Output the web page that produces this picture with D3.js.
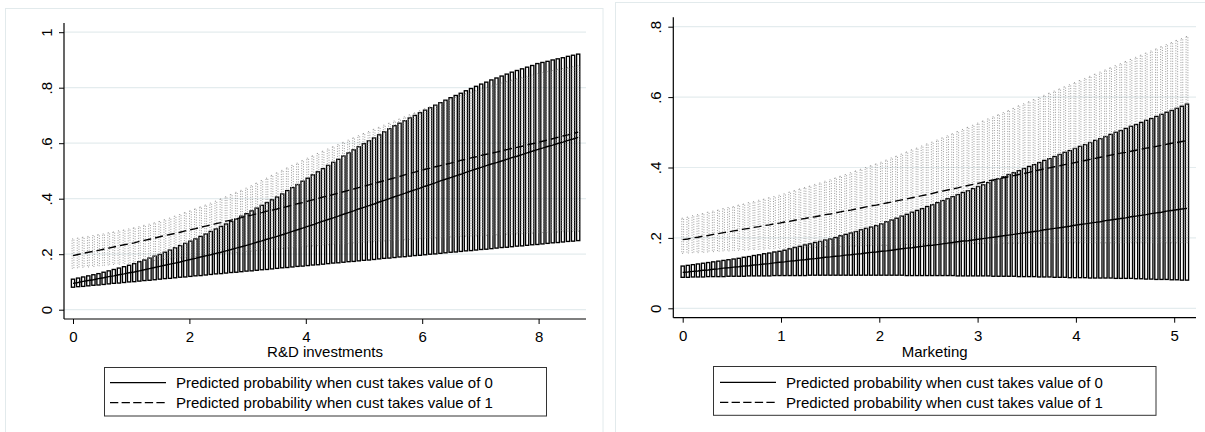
<!DOCTYPE html>
<html><head><meta charset="utf-8">
<script src="https://cdn.jsdelivr.net/npm/d3@7"></script>
<style>
html,body{margin:0;padding:0;background:#fff;}
svg{display:block;}
text{font-family:"Liberation Sans",Arial,sans-serif;fill:#000;}
</style>
</head><body>
<svg id="chart" width="1205" height="432"></svg>
<script>
// ---------- Left panel: R&D investments ----------
const rdX = [0,0.088,0.175,0.263,0.351,0.438,0.526,0.614,0.701,0.789,0.877,0.964,1.052,1.14,1.227,1.315,1.403,1.491,1.578,1.666,1.754,1.841,1.929,2.017,2.104,2.192,2.28,2.367,2.455,2.543,2.63,2.718,2.806,2.893,2.981,3.069,3.156,3.244,3.332,3.419,3.507,3.595,3.682,3.77,3.858,3.945,4.033,4.121,4.208,4.296,4.384,4.472,4.559,4.647,4.735,4.822,4.91,4.998,5.085,5.173,5.261,5.348,5.436,5.524,5.611,5.699,5.787,5.874,5.962,6.05,6.137,6.225,6.313,6.4,6.488,6.576,6.663,6.751,6.839,6.926,7.014,7.102,7.189,7.277,7.365,7.453,7.54,7.628,7.716,7.803,7.891,7.979,8.066,8.154,8.242,8.329,8.417,8.505,8.592,8.68];
const rdHi0 = [.110,.114,.118,.122,.126,.130,.135,.140,.145,.150,.155,.160,.166,.173,.179,.186,.193,.199,.207,.215,.223,.231,.239,.247,.255,.264,.273,.282,.291,.300,.309,.318,.327,.337,.346,.356,.366,.376,.386,.396,.406,.417,.429,.440,.451,.463,.474,.486,.497,.508,.520,.531,.542,.554,.565,.576,.587,.598,.609,.619,.630,.641,.652,.663,.672,.681,.691,.700,.710,.719,.728,.737,.746,.755,.764,.772,.780,.789,.797,.805,.813,.820,.828,.835,.842,.849,.856,.862,.868,.874,.880,.887,.891,.895,.900,.904,.908,.913,.917,.921];
const rdLo0 = [.081,.083,.084,.086,.088,.089,.091,.093,.095,.096,.098,.100,.101,.103,.105,.106,.108,.110,.112,.113,.115,.117,.118,.120,.122,.123,.125,.127,.129,.130,.132,.134,.135,.137,.139,.140,.142,.144,.145,.147,.149,.151,.152,.154,.156,.157,.159,.161,.162,.164,.166,.168,.169,.171,.173,.174,.176,.178,.179,.181,.183,.185,.186,.188,.190,.191,.193,.195,.196,.198,.200,.201,.203,.205,.207,.208,.210,.212,.213,.215,.217,.218,.220,.222,.224,.225,.227,.229,.230,.232,.234,.235,.237,.239,.241,.242,.244,.246,.247,.249];
const rdMean0 = [.095,.098,.102,.105,.108,.112,.115,.119,.122,.126,.129,.133,.136,.140,.144,.148,.152,.156,.160,.164,.168,.172,.177,.181,.185,.190,.194,.198,.203,.207,.212,.217,.222,.227,.232,.237,.243,.248,.254,.259,.264,.270,.276,.282,.288,.294,.300,.306,.313,.319,.325,.331,.337,.344,.350,.356,.363,.369,.375,.381,.388,.394,.400,.407,.413,.419,.426,.432,.438,.445,.451,.457,.464,.470,.476,.482,.488,.495,.501,.507,.513,.519,.525,.530,.536,.542,.548,.553,.559,.565,.571,.577,.582,.588,.593,.599,.604,.610,.615,.621];
const rdHi1 = [.255,.258,.261,.264,.267,.270,.273,.277,.280,.284,.287,.291,.295,.299,.304,.308,.313,.318,.324,.330,.337,.343,.350,.356,.363,.370,.377,.384,.391,.399,.407,.415,.423,.430,.438,.447,.456,.465,.474,.484,.493,.502,.511,.520,.528,.537,.546,.554,.563,.571,.579,.587,.595,.603,.611,.619,.627,.635,.642,.650,.657,.665,.672,.680,.687,.695,.702,.709,.717,.724,.731,.738,.745,.752,.759,.765,.771,.778,.784,.790,.796,.801,.806,.812,.817,.822,.827,.832,.837,.841,.846,.851,.855,.858,.862,.866,.869,.873,.876,.880];
const rdLo1 = [.149,.151,.153,.154,.156,.158,.159,.161,.163,.164,.166,.167,.169,.171,.173,.175,.177,.179,.181,.183,.185,.187,.188,.190,.192,.194,.196,.197,.199,.201,.203,.204,.206,.208,.210,.211,.213,.214,.216,.218,.219,.221,.222,.224,.225,.227,.229,.230,.231,.233,.234,.236,.237,.238,.239,.241,.242,.243,.244,.245,.247,.248,.249,.250,.251,.252,.253,.254,.256,.257,.258,.259,.260,.261,.262,.263,.264,.265,.265,.266,.267,.268,.269,.270,.271,.272,.272,.273,.274,.275,.276,.277,.278,.278,.279,.280,.281,.282,.282,.283];
const rdMean1 = [.195,.199,.203,.207,.210,.214,.218,.222,.226,.230,.234,.237,.241,.246,.250,.254,.258,.263,.267,.271,.275,.279,.284,.288,.292,.297,.301,.305,.310,.314,.319,.323,.328,.332,.337,.341,.346,.350,.355,.359,.363,.368,.372,.377,.382,.386,.391,.396,.401,.406,.410,.415,.420,.425,.430,.435,.440,.445,.450,.455,.460,.465,.470,.475,.480,.486,.491,.496,.501,.506,.510,.515,.519,.524,.528,.533,.538,.542,.547,.551,.556,.560,.564,.568,.572,.577,.581,.585,.589,.594,.598,.602,.607,.611,.616,.621,.626,.630,.635,.640];
const rdXTicks = [0,2,4,6,8];
const rdYTicks = [0,0.2,0.4,0.6,0.8,1];
const rdXTitle = "R&D investments";

// ---------- Right panel: Marketing ----------
const mkX = [0,0.052,0.104,0.155,0.207,0.259,0.311,0.363,0.415,0.466,0.518,0.57,0.622,0.674,0.725,0.777,0.829,0.881,0.933,0.985,1.036,1.088,1.14,1.192,1.244,1.295,1.347,1.399,1.451,1.503,1.555,1.606,1.658,1.71,1.762,1.814,1.865,1.917,1.969,2.021,2.073,2.125,2.176,2.228,2.28,2.332,2.384,2.435,2.487,2.539,2.591,2.643,2.695,2.746,2.798,2.85,2.902,2.954,3.005,3.057,3.109,3.161,3.213,3.265,3.316,3.368,3.42,3.472,3.524,3.575,3.627,3.679,3.731,3.783,3.835,3.886,3.938,3.99,4.042,4.094,4.145,4.197,4.249,4.301,4.353,4.405,4.456,4.508,4.56,4.612,4.664,4.715,4.767,4.819,4.871,4.923,4.975,5.026,5.078,5.13];
const mkHi0 = [.120,.122,.124,.126,.128,.130,.132,.134,.136,.138,.140,.142,.145,.147,.150,.152,.155,.157,.160,.162,.165,.169,.173,.176,.180,.183,.187,.190,.194,.197,.201,.206,.210,.214,.218,.223,.227,.231,.235,.240,.246,.251,.256,.262,.267,.273,.278,.283,.289,.294,.300,.306,.311,.317,.323,.329,.334,.340,.346,.351,.357,.363,.368,.374,.380,.385,.391,.397,.403,.408,.414,.420,.425,.431,.437,.443,.448,.454,.460,.465,.471,.477,.482,.488,.494,.500,.505,.511,.517,.522,.528,.534,.539,.545,.551,.557,.562,.568,.574,.580];
const mkLo0 = [.088,.088,.089,.089,.089,.090,.090,.090,.090,.091,.091,.091,.091,.092,.092,.092,.092,.092,.093,.093,.093,.093,.093,.093,.093,.094,.094,.094,.094,.094,.094,.094,.094,.094,.094,.094,.094,.094,.094,.094,.094,.094,.094,.094,.093,.093,.093,.093,.093,.093,.093,.093,.093,.093,.092,.092,.092,.092,.092,.092,.092,.091,.091,.091,.091,.091,.090,.090,.090,.090,.089,.089,.089,.088,.088,.088,.087,.087,.087,.087,.086,.086,.086,.086,.086,.085,.085,.085,.085,.084,.084,.083,.083,.082,.082,.082,.081,.081,.080,.080];
const mkMean0 = [.102,.103,.105,.106,.108,.109,.111,.112,.114,.115,.117,.118,.120,.121,.123,.124,.126,.127,.129,.131,.132,.134,.135,.137,.138,.140,.141,.143,.145,.146,.148,.149,.151,.152,.154,.155,.157,.159,.160,.162,.163,.165,.167,.169,.171,.172,.174,.176,.178,.179,.181,.183,.185,.187,.189,.191,.192,.194,.196,.198,.200,.202,.204,.206,.208,.210,.212,.214,.216,.218,.220,.223,.225,.227,.229,.231,.233,.236,.238,.240,.242,.244,.246,.249,.251,.253,.255,.257,.260,.262,.264,.266,.269,.271,.273,.276,.278,.280,.282,.284];
const mkHi1 = [.256,.259,.263,.266,.269,.273,.276,.279,.283,.286,.289,.293,.296,.300,.303,.307,.310,.314,.317,.321,.325,.330,.334,.339,.343,.347,.352,.356,.361,.365,.370,.375,.380,.385,.390,.395,.400,.405,.410,.415,.421,.427,.432,.438,.444,.450,.455,.461,.467,.472,.478,.484,.490,.496,.502,.508,.514,.520,.526,.532,.538,.544,.550,.556,.562,.568,.575,.581,.587,.593,.599,.605,.611,.617,.623,.629,.635,.641,.647,.653,.659,.665,.671,.677,.683,.689,.695,.701,.707,.713,.719,.725,.731,.737,.743,.749,.755,.761,.766,.772];
const mkLo1 = [.156,.157,.158,.158,.159,.160,.161,.162,.163,.163,.164,.165,.165,.166,.167,.167,.168,.169,.169,.170,.170,.171,.171,.172,.172,.173,.173,.174,.175,.175,.175,.176,.176,.177,.177,.178,.178,.178,.179,.179,.179,.180,.180,.180,.181,.181,.181,.182,.182,.182,.182,.183,.183,.183,.183,.183,.184,.184,.184,.184,.184,.184,.184,.185,.185,.185,.185,.185,.185,.185,.185,.185,.185,.186,.186,.186,.186,.186,.186,.186,.186,.186,.186,.186,.186,.186,.186,.186,.186,.186,.186,.186,.186,.186,.186,.186,.186,.186,.186,.186];
const mkMean1 = [.195,.197,.200,.202,.205,.207,.210,.212,.215,.217,.220,.222,.225,.227,.230,.232,.235,.237,.240,.242,.245,.247,.250,.253,.255,.258,.260,.263,.266,.268,.271,.274,.277,.279,.282,.285,.288,.291,.293,.296,.299,.302,.305,.308,.311,.314,.317,.320,.323,.326,.330,.333,.336,.339,.342,.346,.349,.352,.355,.358,.362,.365,.368,.371,.374,.377,.380,.383,.386,.390,.393,.396,.399,.402,.405,.408,.411,.414,.417,.420,.423,.426,.429,.432,.435,.438,.441,.443,.446,.449,.452,.455,.457,.460,.463,.466,.469,.471,.474,.476];
const mkXTicks = [0,1,2,3,4,5];
const mkYTicks = [0,0.2,0.4,0.6,0.8];
const mkXTitle = "Marketing";

const legendLabels = ["Predicted probability when cust takes value of 0",
                      "Predicted probability when cust takes value of 1"];

// ---------- drawing ----------
const svg = d3.select("#chart");
const fmtY = v => v === 0 ? "0" : v === 1 ? "1" : d3.format(".1f")(v).replace(/^0/, "");

function drawPanel(p) {
  const g = svg.append("g");
  g.append("rect").attr("x", p.frame[0]).attr("y", p.frame[1])
    .attr("width", p.frame[2]).attr("height", p.frame[3])
    .attr("fill", "none").attr("stroke", "#e2eaec").attr("stroke-width", 1);

  const x = d3.scaleLinear().domain(p.xDom).range(p.xRange);
  const y = d3.scaleLinear().domain(p.yDom).range(p.yRange);

  g.append("g").selectAll("line").data(p.yTicks).join("line")
    .attr("x1", p.plot.l).attr("x2", p.plot.r)
    .attr("y1", d => y(d)).attr("y2", d => y(d))
    .attr("stroke", "#e4ecee").attr("stroke-width", 1.2);

  const idx = d3.range(p.xs.length);
  g.append("g").selectAll("rect").data(idx).join("rect")
    .attr("x", i => x(p.xs[i]) - 1.6).attr("width", 3.2)
    .attr("y", i => y(p.hi0[i])).attr("height", i => y(p.lo0[i]) - y(p.hi0[i]))
    .attr("fill", "none").attr("stroke", "#000").attr("stroke-width", 1.35);
  g.append("g").selectAll("rect").data(idx).join("rect")
    .attr("x", i => x(p.xs[i]) - 0.9).attr("width", 1.8)
    .attr("y", i => y(p.hi1[i])).attr("height", i => y(p.lo1[i]) - y(p.hi1[i]))
    .attr("fill", "none").attr("stroke", "#8e8e8e").attr("stroke-width", 0.9)
    .attr("stroke-dasharray", "1,1.5");

  const line = arr => d3.line().x((d, i) => x(p.xs[i])).y(d => y(d))(arr);
  g.append("path").attr("d", line(p.m0)).attr("fill", "none")
    .attr("stroke", "#000").attr("stroke-width", 1.4);
  g.append("path").attr("d", line(p.m1)).attr("fill", "none")
    .attr("stroke", "#000").attr("stroke-width", 1.4).attr("stroke-dasharray", "8,4");

  g.append("line").attr("x1", p.plot.l).attr("x2", p.plot.l)
    .attr("y1", p.plot.t).attr("y2", p.plot.b).attr("stroke", "#000").attr("stroke-width", 1.2);
  g.append("line").attr("x1", p.plot.l).attr("x2", p.plot.r)
    .attr("y1", p.plot.b).attr("y2", p.plot.b).attr("stroke", "#000").attr("stroke-width", 1.2);

  const ya = g.append("g").attr("transform", `translate(${p.plot.l},0)`)
    .call(d3.axisLeft(y).tickValues(p.yTicks).tickSize(5).tickFormat(fmtY));
  ya.select(".domain").remove();
  ya.selectAll(".tick line").attr("stroke", "#000").attr("stroke-width", 1);
  ya.selectAll(".tick text").attr("x", null).attr("dy", null)
    .attr("transform", "translate(-12.5,0) rotate(-90)")
    .attr("text-anchor", "middle").style("font-size", "15px")
    .style("font-family", '"Liberation Sans",Arial,sans-serif').attr("fill", "#000");

  const xa = g.append("g").attr("transform", `translate(0,${p.plot.b})`)
    .call(d3.axisBottom(x).tickValues(p.xTicks).tickSize(5).tickFormat(d3.format("d")));
  xa.select(".domain").remove();
  xa.selectAll(".tick line").attr("stroke", "#000").attr("stroke-width", 1);
  xa.selectAll(".tick text").attr("y", 23).attr("dy", null)
    .style("font-size", "15px").style("font-family", '"Liberation Sans",Arial,sans-serif').attr("fill", "#000");

  g.append("text").attr("x", (p.plot.l + p.plot.r) / 2).attr("y", 357)
    .attr("text-anchor", "middle").style("font-size", "15px").text(p.xTitle);

  const L = p.legend;
  g.append("rect").attr("x", L.x).attr("y", L.y).attr("width", L.w).attr("height", L.h)
    .attr("fill", "#fff").attr("stroke", "#333").attr("stroke-width", 1);
  legendLabels.forEach((lab, k) => {
    const ry = L.rows[k];
    g.append("line").attr("x1", L.s1).attr("x2", L.s2).attr("y1", ry).attr("y2", ry)
      .attr("stroke", "#000").attr("stroke-width", 1.3)
      .attr("stroke-dasharray", k === 1 ? "8.3,3.3" : null);
    g.append("text").attr("x", L.tx).attr("y", ry + 5.3)
      .style("font-size", "15px").text(lab);
  });
}

drawPanel({
  frame: [5.5, 8.5, 597.5, 600],
  plot: {l: 64, r: 586, t: 23, b: 319},
  xDom: [0, 8], xRange: [73, 538.6],
  yDom: [0, 1], yRange: [309.7, 32.2],
  xs: rdX, hi0: rdHi0, lo0: rdLo0, m0: rdMean0, hi1: rdHi1, lo1: rdLo1, m1: rdMean1,
  xTicks: rdXTicks, yTicks: rdYTicks, xTitle: rdXTitle,
  legend: {x: 104.5, y: 367.5, w: 442, h: 48.5, s1: 110, s2: 166, tx: 176, rows: [382.7, 402.7]}
});

drawPanel({
  frame: [615.5, 2.5, 700, 600],
  plot: {l: 673.3, r: 1196, t: 17.3, b: 317.7},
  xDom: [0, 5], xRange: [682.7, 1174.2],
  yDom: [0, 0.8], yRange: [308.3, 26.7],
  xs: mkX, hi0: mkHi0, lo0: mkLo0, m0: mkMean0, hi1: mkHi1, lo1: mkLo1, m1: mkMean1,
  xTicks: mkXTicks, yTicks: mkYTicks, xTitle: mkXTitle,
  legend: {x: 713.5, y: 366.5, w: 442.5, h: 48.8, s1: 720, s2: 776, tx: 786, rows: [382.3, 402.3]}
});
</script>
</body></html>
